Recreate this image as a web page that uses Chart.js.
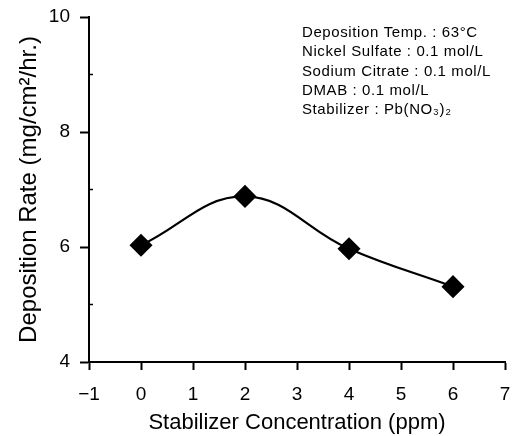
<!DOCTYPE html>
<html>
<head>
<meta charset="utf-8">
<script src="https://cdn.jsdelivr.net/npm/chart.js@4"></script>
<style>
  body { margin: 0; background: #fff; }
  #wrap { width: 512px; height: 436px; }
</style>
</head>
<body>
<div id="wrap"><canvas id="chart" width="512" height="436"></canvas></div>
<script>
// stabilizer concentration (ppm) vs deposition rate
const concentration = [0, 2, 4, 6];
const depositionRate = [6.03, 6.88, 5.97, 5.31];
const xTicks = [-1, 0, 1, 2, 3, 4, 5, 6, 7];
const yTicks = [4, 6, 8, 10];
const yMinorTicks = [5, 7, 9];
const notes = [
  'Deposition Temp. : 63°C',
  'Nickel Sulfate : 0.1 mol/L',
  'Sodium Citrate : 0.1 mol/L',
  'DMAB : 0.1 mol/L',
  'Stabilizer : Pb(NO₃)₂'
];

const font = 'Liberation Sans, Arial, Helvetica, sans-serif';

// short inward ticks on y axis + condition text block
const extras = {
  id: 'extras',
  afterDraw(chart) {
    const ctx = chart.ctx;
    const x = chart.scales.x, y = chart.scales.y;
    ctx.save();
    ctx.strokeStyle = '#000';
    ctx.lineWidth = 1.5;
    yMinorTicks.forEach(v => {
      const py = y.getPixelForValue(v);
      ctx.beginPath();
      ctx.moveTo(x.left, py);
      ctx.lineTo(x.left + 4, py);
      ctx.stroke();
    });
    ctx.fillStyle = '#000';
    ctx.font = '15px ' + font;
    ctx.letterSpacing = '0.6px';
    ctx.textBaseline = 'middle';
    notes.forEach((t, i) => {
      ctx.fillText(t, 302, 33 + i * 19.2);
    });
    ctx.restore();
  }
};

new Chart(document.getElementById('chart'), {
  type: 'line',
  data: {
    datasets: [{
      data: concentration.map((c, i) => ({ x: c, y: depositionRate[i] })),
      borderColor: '#000',
      backgroundColor: '#000',
      borderWidth: 2.2,
      tension: 0.4,
      pointStyle: 'rectRot',
      pointRadius: 10,
      pointHoverRadius: 10
    }]
  },
  options: {
    responsive: false,
    animation: false,
    layout: { autoPadding: false, padding: { left: 0, right: 0, top: 17, bottom: 0 } },
    plugins: { legend: { display: false }, tooltip: { enabled: false } },
    scales: {
      x: {
        type: 'linear',
        min: -1, max: 7,
        afterBuildTicks: s => { s.ticks = xTicks.map(v => ({ value: v })); },
        afterFit: s => { s.height = 74; s.paddingRight = 7; },
        ticks: {
          color: '#000', font: { family: font, size: 19 }, padding: 13,
          callback: v => v < 0 ? '\u2212' + Math.abs(v) : String(v)
        },
        grid: { drawOnChartArea: false, tickLength: 8, tickColor: '#000', tickWidth: 2 },
        border: { color: '#000', width: 2 },
        title: {
          display: true, text: 'Stabilizer Concentration (ppm)', color: '#000',
          font: { family: font, size: 22 }, padding: { top: 3, bottom: 0 }
        }
      },
      y: {
        min: 4, max: 10,
        afterBuildTicks: s => { s.ticks = yTicks.map(v => ({ value: v })); },
        afterFit: s => { s.width = 89; s.paddingTop = 0; },
        ticks: { color: '#000', font: { family: font, size: 19 }, padding: 10 },
        grid: { drawOnChartArea: false, tickLength: 9, tickColor: '#000', tickWidth: 2 },
        border: { color: '#000', width: 2 },
        title: {
          display: true, text: 'Deposition Rate (mg/cm²/hr.)', color: '#000',
          font: { family: font, size: 24 }, padding: { top: 15, bottom: 0 }
        }
      }
    }
  },
  plugins: [extras]
});
</script>
</body>
</html>
